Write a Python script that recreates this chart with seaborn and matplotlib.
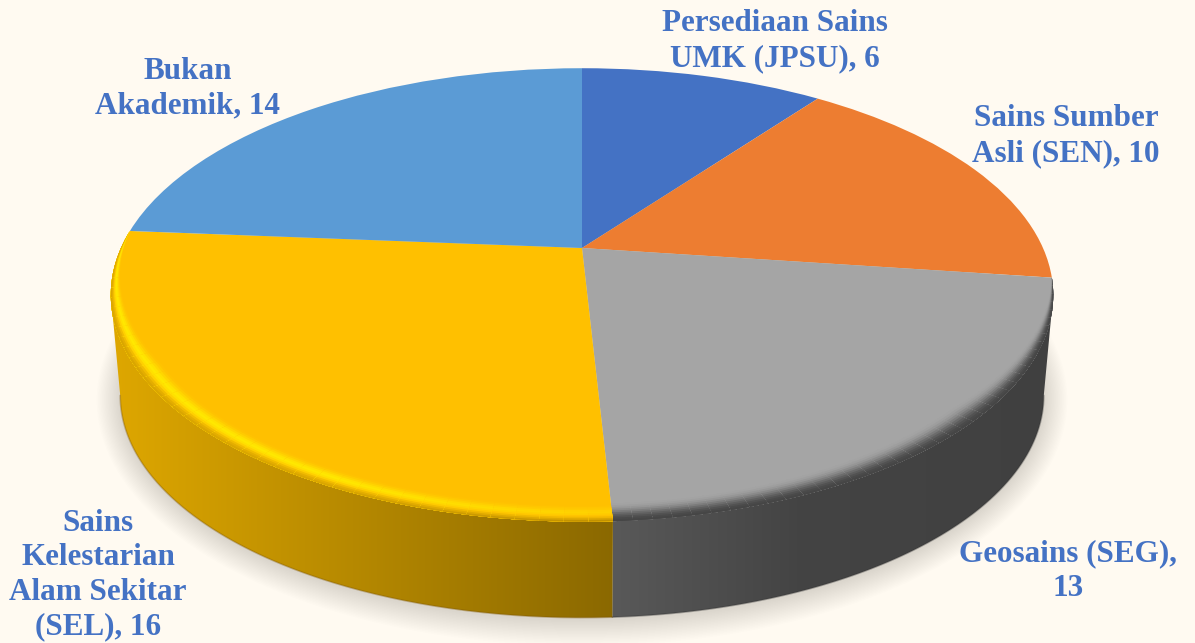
import numpy as np
import seaborn as sns
import matplotlib.pyplot as plt
from matplotlib.colors import to_rgb
from matplotlib.patches import PathPatch
from matplotlib.path import Path
from matplotlib.transforms import Transform

labels = [
    "Persediaan Sains\nUMK (JPSU), 6",
    "Sains Sumber\nAsli (SEN), 10",
    "Geosains (SEG),\n13",
    "Sains\nKelestarian\nAlam Sekitar\n(SEL), 16",
    "Bukan\nAkademik, 14",
]
values = [6, 10, 13, 16, 14]
colors = ["#4472C4", "#ED7D31", "#A5A5A5", "#FFC000", "#5B9BD5"]
label_x = [775, 1066, 1068, 98, 188]
label_y = [41, 136, 571, 575, 89]

BG = "#FFFAF1"
CX, CY = 582, 248  # pie apex in pixels
SX, SY, K = 461, 217, 0.207  # perspective of the top face
LOWER_SCALE, LOWER_DROP = 0.98, 101.5


class Tilt(Transform):
    input_dims = 2
    output_dims = 2
    is_affine = False

    def transform_non_affine(self, values):
        x, y = np.asarray(values).T
        w = 1 + K * y
        return np.column_stack((CX + SX * x / w, CY - SY * y / w))


def rim(phi, r=1.0):
    # phi in degrees clockwise from the top
    a = np.radians(phi)
    return np.column_stack((r * np.sin(a), r * np.cos(a)))


def to_px(pts):
    return Tilt().transform_non_affine(pts)


def lower(pts):
    out = np.array(pts, dtype=float)
    out[:, 0] = CX + (out[:, 0] - CX) * LOWER_SCALE
    out[:, 1] = CY + LOWER_DROP + (out[:, 1] - CY) * LOWER_SCALE
    return out


sns.set_theme(style="white", palette=sns.color_palette(colors))
plt.rcParams["font.family"] = ["Liberation Serif", "DejaVu Serif"]

fig = plt.figure(figsize=(11.95, 6.43), dpi=100, facecolor=BG)
ax = fig.add_axes([0, 0, 1, 1])

wedges, _ = ax.pie(
    values,
    colors=colors,
    startangle=90,
    counterclock=False,
    wedgeprops=dict(linewidth=0, zorder=4),
)
tilt = Tilt() + ax.transData
for w in wedges:
    w.set_transform(tilt)

ax.set_aspect("auto")
ax.set_facecolor(BG)
ax.set_frame_on(False)

edges = np.cumsum([0] + values) / sum(values) * 360
gray_start, gray_end = edges[2], edges[3]
yellow_end = edges[4]

# where the side wall leaves the top ellipse
side = np.degrees(np.arcsin(K))
right_side, left_side = 90 + side, 270 - side

# soft shadow under the disc
ring = lower(to_px(rim(np.linspace(0, 360, 361))))
centre = ring.mean(axis=0)
for grow in np.linspace(24, 1, 18):
    pts = centre + (ring - centre) * [1 + grow / 470, 1 + grow / 225]
    pts[:, 1] += 2
    ax.fill(pts[:, 0], pts[:, 1], color="#4A4A20", alpha=0.0095, lw=0, zorder=1)


def draw_wall(phi0, phi1, base, stops_x, stops_f, edge):
    phi = np.linspace(phi0, phi1, 200)
    top = to_px(rim(phi))
    bot = lower(top)
    verts = np.vstack((top, bot[::-1], top[:1]))
    xs = np.arange(0, 1195)
    f = np.interp(xs, stops_x, stops_f)
    img = (np.array(to_rgb(base))[None, :] * f[:, None])[None, :, :]
    im = ax.imshow(img, extent=(0, 1195, 643, 0), aspect="auto", zorder=2)
    clip = PathPatch(Path(verts), transform=ax.transData, fc="none", lw=0)
    ax.add_patch(clip)
    im.set_clip_path(clip)
    ax.plot(bot[:, 0], bot[:, 1], color=edge, lw=1.2, alpha=0.35, zorder=3)


draw_wall(right_side, gray_end, colors[2], [611, 800, 1050], [0.54, 0.41, 0.39], "#303030")
draw_wall(gray_end, left_side, colors[3], [113, 611], [0.87, 0.545], "#7A5200")


def draw_bevel(phi0, phi1, shades, width, plain=None):
    # split along the arc so the bright band can fade out towards the front
    steps = np.linspace(phi0, phi1, 41)
    shades = np.array([to_rgb(c) for c in shades])
    plain = shades if plain is None else np.array([to_rgb(c) for c in plain])
    n = len(shades)
    for a, b in zip(steps[:-1], steps[1:]):
        phi = np.linspace(a, min(b + 0.4, phi1), 12)
        taper = np.clip((phi - gray_start) / 35, 0, 1) * np.clip((yellow_end - phi) / 35, 0, 1)
        mix = np.clip(((a + b) / 2 - gray_end + 10) / 40, 0, 1)
        for i in range(n):
            outer = rim(phi, 1.0)
            inner = rim(phi, 1 - width * taper * (1 - i / n))
            pts = to_px(np.vstack((outer, inner[::-1])))
            ax.fill(pts[:, 0], pts[:, 1], color=plain[i] + (shades[i] - plain[i]) * mix, lw=0, zorder=5)


# widest band first, narrower ones go on top towards the rim
draw_bevel(gray_start, gray_end,
           ["#A3A3A3", "#9E9E9E", "#969696", "#8A8A8A", "#7C7C7C", "#6C6C6C", "#5E5E5E", "#525252", "#4A4A4A", "#464646"],
           0.052)
draw_bevel(gray_end, yellow_end,
           ["#FFC300", "#FFCB00", "#FFD600", "#FFE200", "#FFE800", "#FFE000", "#FFD000", "#F2BC00", "#E4AE00", "#DAA600"],
           0.048,
           plain=["#FFC000", "#FFC200", "#FFC400", "#FFC800", "#FFC800", "#FFC400", "#FFBE00", "#EFB400", "#D8A200", "#B88A00"])

for text, x, y in zip(labels, label_x, label_y):
    ax.text(
        x, y, text,
        ha="center", va="center",
        color=colors[0],
        fontsize=22.4,
        fontweight="bold",
        linespacing=1.25,
        zorder=6,
    )

ax.set_xlim(0, 1195)
ax.set_ylim(643, 0)
ax.set_xticks([])
ax.set_yticks([])

fig.savefig("out.png", dpi=100, facecolor=BG)
